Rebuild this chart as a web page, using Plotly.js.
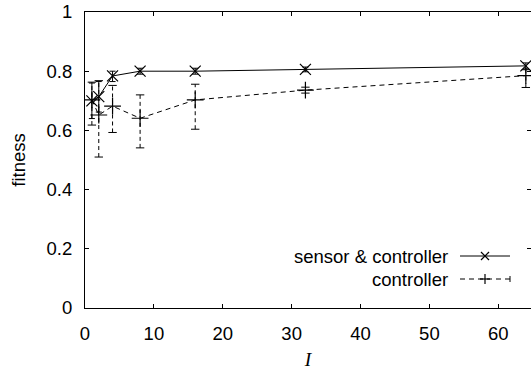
<!DOCTYPE html>
<html>
<head>
<meta charset="utf-8">
<script src="https://cdn.plot.ly/plotly-3.0.1.min.js"></script>
<style>html,body{margin:0;padding:0;background:#fff;}#chart{width:531px;height:370px;}</style>
</head>
<body>
<div id="chart"></div>
<script>
// Data
var xValues = [1, 2, 4, 8, 16, 32, 64];
var sensorCtrlMean = [0.700, 0.714, 0.784, 0.800, 0.800, 0.806, 0.818];
var sensorCtrlLow  = [0.640, 0.662, 0.765, 0.790, 0.790, 0.798, 0.808];
var sensorCtrlHigh = [0.760, 0.765, 0.800, 0.810, 0.810, 0.814, 0.828];
var ctrlMean = [0.703, 0.652, 0.682, 0.641, 0.703, 0.736, 0.785];
var ctrlLow  = [0.618, 0.510, 0.593, 0.541, 0.604, 0.726, 0.745];
var ctrlHigh = [0.763, 0.768, 0.752, 0.720, 0.756, 0.746, 0.805];
var xTicks = [0, 10, 20, 30, 40, 50, 60];
var yTicks = [0, 0.2, 0.4, 0.6, 0.8, 1];
var yTickText = ['0', '0.2', '0.4', '0.6', '0.8', '1'];
var seriesNames = ['sensor & controller', 'controller'];

var FONT = 'Liberation Sans, Arial, sans-serif';
var FS = 18.5;

// Build dashed error bar segments for the controller series
var ebX = [], ebY = [];
for (var i = 0; i < xValues.length; i++) {
  ebX.push(xValues[i], xValues[i], null);
  ebY.push(ctrlLow[i], ctrlHigh[i], null);
}
var sUp = sensorCtrlHigh.map(function(v, i){ return v - sensorCtrlMean[i]; });
var sDown = sensorCtrlLow.map(function(v, i){ return sensorCtrlMean[i] - v; });

var traces = [
  {
    x: ebX, y: ebY, type: 'scatter', mode: 'lines+markers', connectgaps: false,
    line: {color: '#000', width: 1, dash: '4px,3px'},
    marker: {symbol: 'line-ew-open', size: 6, line: {color: '#000', width: 1}},
    showlegend: false, hoverinfo: 'skip'
  },
  {
    x: xValues, y: ctrlMean, name: seriesNames[1], type: 'scatter', mode: 'lines+markers',
    line: {color: '#000', width: 1, dash: '5px,4px'},
    marker: {symbol: 'cross-thin-open', size: 12, line: {color: '#000', width: 1.2}},
    showlegend: false
  },
  {
    x: xValues, y: sensorCtrlMean, name: seriesNames[0], type: 'scatter', mode: 'lines+markers',
    line: {color: '#000', width: 1},
    marker: {symbol: 'x-thin-open', size: 11, line: {color: '#000', width: 1.2}},
    error_y: {type: 'data', symmetric: false, array: sUp, arrayminus: sDown, visible: true, color: '#000', thickness: 1, width: 3},
    showlegend: false
  },
  // invisible trace to host right-side mirrored y ticks
  {x: [0], y: [0], yaxis: 'y2', mode: 'markers', marker: {opacity: 0}, showlegend: false, hoverinfo: 'skip'}
];

// legend geometry in paper coordinates
function px(x){ return (x - 85) / 446; }
function py(y){ return (308 - y) / 296; }
var r1 = 256, r2 = 279;
var shapes = [
  {type: 'line', xref: 'paper', yref: 'paper', x0: px(460), x1: px(510), y0: py(r1), y1: py(r1), line: {color: '#000', width: 1}},
  {type: 'line', xref: 'paper', yref: 'paper', x0: px(481), x1: px(489), y0: py(r1 - 4), y1: py(r1 + 4), line: {color: '#000', width: 1.2}},
  {type: 'line', xref: 'paper', yref: 'paper', x0: px(481), x1: px(489), y0: py(r1 + 4), y1: py(r1 - 4), line: {color: '#000', width: 1.2}},
  {type: 'line', xref: 'paper', yref: 'paper', x0: px(460), x1: px(510), y0: py(r2), y1: py(r2), line: {color: '#000', width: 1, dash: '5px,4px'}},
  {type: 'line', xref: 'paper', yref: 'paper', x0: px(480), x1: px(490), y0: py(r2), y1: py(r2), line: {color: '#000', width: 1.2}},
  {type: 'line', xref: 'paper', yref: 'paper', x0: px(485), x1: px(485), y0: py(r2 - 5), y1: py(r2 + 5), line: {color: '#000', width: 1.2}},
  {type: 'line', xref: 'paper', yref: 'paper', x0: px(510), x1: px(510), y0: py(r2 - 3), y1: py(r2 + 3), line: {color: '#000', width: 1}}
];
var annotations = [
  {xref: 'paper', yref: 'paper', x: px(450), y: py(r1), xanchor: 'right', yanchor: 'middle', showarrow: false,
   text: seriesNames[0], font: {family: FONT, size: FS, color: '#000'}},
  {xref: 'paper', yref: 'paper', x: px(450), y: py(r2), xanchor: 'right', yanchor: 'middle', showarrow: false,
   text: seriesNames[1], font: {family: FONT, size: FS, color: '#000'}}
];

var layout = {
  width: 531, height: 370,
  margin: {l: 85, r: 0, t: 12, b: 62, pad: 0},
  paper_bgcolor: '#fff', plot_bgcolor: '#fff',
  showlegend: false,
  font: {family: FONT, size: FS, color: '#000'},
  xaxis: {
    range: [0, 64.75], tickvals: xTicks, ticktext: xTicks.map(String),
    ticks: 'inside', ticklen: 4, tickcolor: '#000', tickwidth: 1,
    showline: true, linecolor: '#000', linewidth: 1, mirror: 'ticks',
    showgrid: false, zeroline: false,
    ticklabelstandoff: 9,
    tickfont: {family: FONT, size: FS, color: '#000'},
    title: {text: 'I', font: {family: 'Liberation Serif, Times New Roman, serif', size: FS + 1, color: '#000', style: 'italic'}, standoff: 11}
  },
  yaxis: {
    range: [0, 1], tickvals: yTicks, ticktext: yTickText,
    ticks: 'inside', ticklen: 4, tickcolor: '#000', tickwidth: 1,
    showline: true, linecolor: '#000', linewidth: 1, mirror: false,
    showgrid: false, zeroline: false,
    ticklabelstandoff: 8,
    tickfont: {family: FONT, size: FS, color: '#000'},
    title: {text: 'fitness', font: {family: FONT, size: FS, color: '#000'}, standoff: 16}
  },
  yaxis2: {
    overlaying: 'y', side: 'right', range: [0, 1], tickvals: yTicks,
    ticks: 'inside', ticklen: 4, tickcolor: '#000', showticklabels: false,
    showline: false, showgrid: false, zeroline: false
  },
  shapes: shapes,
  annotations: annotations
};

Plotly.newPlot('chart', traces, layout, {staticPlot: true, displayModeBar: false});
</script>
</body>
</html>
